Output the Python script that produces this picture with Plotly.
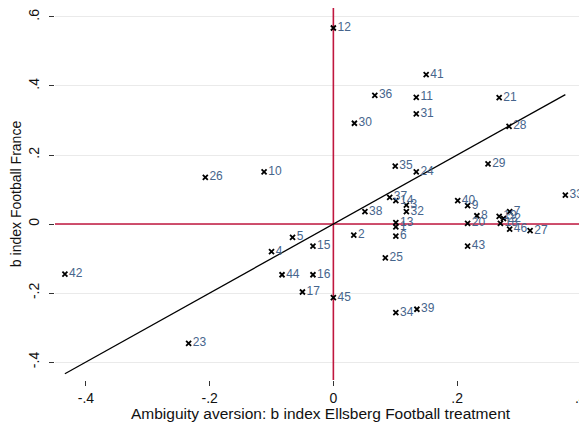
import plotly.graph_objects as go

ids = [str(i) for i in range(1, 47)]
x_vals = [0.101, 0.033, 0.118, -0.100, -0.066, 0.101, 0.285, 0.232, 0.217, -0.112,
          0.134, 0.000, 0.101, 0.101, -0.033, -0.033, -0.050, 0.270, 0.268, 0.217,
          0.268, 0.275, -0.234, 0.134, 0.084, -0.207, 0.318, 0.284, 0.250, 0.034,
          0.134, 0.118, 0.375, 0.101, 0.100, 0.067, 0.091, 0.051, 0.135, 0.201,
          0.150, -0.434, 0.217, -0.083, 0.000, 0.285]
y_vals = [-0.008, -0.032, 0.055, -0.080, -0.039, -0.035, 0.036, 0.024, 0.053, 0.151,
          0.367, 0.568, 0.004, 0.068, -0.064, -0.147, -0.197, 0.002, 0.022, 0.002,
          0.366, 0.016, -0.346, 0.151, -0.098, 0.135, -0.019, 0.283, 0.174, 0.292,
          0.319, 0.036, 0.084, -0.257, 0.168, 0.373, 0.077, 0.036, -0.247, 0.068,
          0.433, -0.145, -0.064, -0.147, -0.213, -0.015]

x_ticks = [-0.4, -0.2, 0, 0.2, 0.4]
x_tick_text = ["-.4", "-.2", "0", ".2", ".4"]
y_ticks = [-0.4, -0.2, 0, 0.2, 0.4, 0.6]
y_tick_text = ["-.4", "-.2", "0", ".2", ".4", ".6"]

X_RANGE = [-0.45, 0.41]
Y_RANGE = [-0.452, 0.626]

FONT = "Liberation Sans, Arial, sans-serif"
RED = "#c0173f"

fig = go.Figure()

# reference lines at zero
fig.add_trace(go.Scatter(x=X_RANGE, y=[0, 0], mode="lines",
                         line=dict(color=RED, width=1.6), hoverinfo="skip", showlegend=False))
fig.add_trace(go.Scatter(x=[0, 0], y=Y_RANGE, mode="lines",
                         line=dict(color=RED, width=1.6), hoverinfo="skip", showlegend=False))

# 45-degree line across the data range
xmin, xmax = min(x_vals), max(x_vals)
fig.add_trace(go.Scatter(x=[xmin, xmax], y=[xmin, xmax], mode="lines",
                         line=dict(color="black", width=1.3), hoverinfo="skip",
                         showlegend=False))

fig.add_trace(go.Scatter(
    x=x_vals, y=y_vals, mode="markers+text", text=ids,
    textposition="middle right",
    textfont=dict(family=FONT, size=12, color="#46658c"),
    marker=dict(symbol="x-thin", size=5, line=dict(color="black", width=1.8)),
    cliponaxis=False, showlegend=False))

fig.add_annotation(text="Ambiguity aversion: b index Ellsberg Football treatment",
                   xref="paper", yref="paper", x=0.5, y=0, yshift=-33,
                   xanchor="center", yanchor="middle", showarrow=False,
                   font=dict(family=FONT, size=15.5, color="#111"))

fig.update_layout(
    width=587, height=430,
    margin=dict(l=47, r=8, t=0, b=58),
    paper_bgcolor="white", plot_bgcolor="white",
    font=dict(family=FONT, size=14, color="#111"),
    xaxis=dict(range=X_RANGE, tickvals=x_ticks, ticktext=x_tick_text,
               showgrid=False, zeroline=False, showline=False,
               ticks="outside", ticklen=5, tickcolor="#333", tickwidth=1,
               tickfont=dict(size=14), ticklabelstandoff=0),
    yaxis=dict(range=Y_RANGE, tickvals=y_ticks, ticktext=y_tick_text,
               showgrid=True, gridcolor="#eaeaea", gridwidth=1,
               zeroline=False, showline=False,
               ticks="outside", ticklen=5, tickcolor="#333", tickwidth=1,
               tickangle=-90, tickfont=dict(size=14), ticklabelstandoff=4,
               title=dict(text="b index Football France", font=dict(size=14), standoff=5)),
)

fig.write_html("out.html")
